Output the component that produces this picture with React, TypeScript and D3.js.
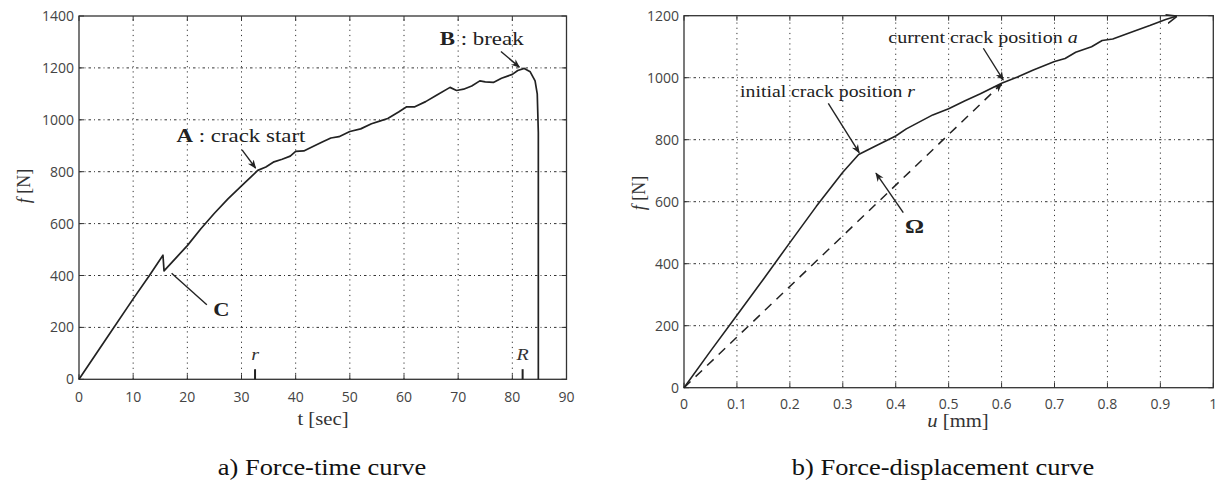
import React from "react";
import * as d3 from "d3";

// ---- Data: a) force-time curve ----
const ftTime = [0, 5, 10, 13, 15.5, 15.7, 18, 20, 22.5, 25, 27.5, 30, 32, 33, 34.5, 36, 37.5, 39, 40, 41.5, 43, 45, 46.5, 48, 50, 52, 54, 55.5, 57, 59, 60.5, 62, 64, 66, 68.5, 69.7, 71, 72.5, 74, 75, 76.5, 78, 80, 81, 82.2, 83.3, 84.2, 84.6, 84.8, 84.8];
const ftForce = [0, 155, 310, 400, 478, 418, 470, 515, 580, 640, 695, 745, 785, 805, 818, 838, 848, 860, 878, 880, 895, 915, 930, 935, 955, 965, 985, 995, 1005, 1030, 1050, 1050, 1070, 1095, 1125, 1113, 1118, 1130, 1150, 1146, 1144, 1160, 1175, 1190, 1198, 1185, 1150, 1100, 950, 0];
const ftXTicks = [0, 10, 20, 30, 40, 50, 60, 70, 80, 90];
const ftYTicks = [0, 200, 400, 600, 800, 1000, 1200, 1400];

// ---- Data: b) force-displacement curve ----
const fuDisp = [0, 0.05, 0.1, 0.15, 0.2, 0.25, 0.3, 0.33, 0.36, 0.4, 0.42, 0.47, 0.5, 0.53, 0.56, 0.6, 0.63, 0.66, 0.7, 0.72, 0.74, 0.77, 0.79, 0.81, 0.85, 0.88, 0.91, 0.93];
const fuForce = [0, 118, 234, 350, 468, 585, 695, 752, 778, 812, 835, 880, 900, 925, 948, 982, 1002, 1025, 1052, 1062, 1082, 1100, 1120, 1125, 1150, 1168, 1188, 1198];
const omegaDisp = [0, 0.6];
const omegaForce = [0, 980];
const fuXTicks = [0, 0.1, 0.2, 0.3, 0.4, 0.5, 0.6, 0.7, 0.8, 0.9, 1];
const fuYTicks = [0, 200, 400, 600, 800, 1000, 1200];

const SERIF = "'Liberation Serif', 'Times New Roman', serif";
const SANS = "'Open Sans', 'Noto Sans', sans-serif";
const INK = "#222";
const GRID = "#333";

type Sc = d3.ScaleLinear<number, number>;

function ST({ x, y, anchor = "start", size, weight, fill = INK, sx = 1.25, children }: { x: number; y: number; anchor?: string; size: number; weight?: string; fill?: string; sx?: number; children: React.ReactNode }) {
  return (
    <text transform={`translate(${x},${y}) scale(${sx},1)`} textAnchor={anchor} fontFamily={SERIF} fontSize={size} fontWeight={weight} fill={fill}>
      {children}
    </text>
  );
}

function Frame({ x, y, xTicks, yTicks, xFmt, tickDy }: { x: Sc; y: Sc; xTicks: number[]; yTicks: number[]; xFmt: (v: number) => string; tickDy: number }) {
  const [x0, x1] = x.range();
  const [y0, y1] = y.range();
  const tl = 5;
  return (
    <g>
      {xTicks.slice(1, -1).map((v) => (
        <line key={"gx" + v} x1={x(v)} x2={x(v)} y1={y0} y2={y1} stroke={GRID} strokeWidth={1} strokeDasharray="1.2,4" />
      ))}
      {yTicks.slice(1, -1).map((v) => (
        <line key={"gy" + v} x1={x0} x2={x1} y1={y(v)} y2={y(v)} stroke={GRID} strokeWidth={1} strokeDasharray="2.5,3,1,3" />
      ))}
      {xTicks.map((v) => (
        <g key={"tx" + v}>
          <line x1={x(v)} x2={x(v)} y1={y0} y2={y0 - tl} stroke={GRID} strokeWidth={1} />
          <line x1={x(v)} x2={x(v)} y1={y1} y2={y1 + tl} stroke={GRID} strokeWidth={1} />
          <text x={x(v)} y={y0 + tickDy} textAnchor="middle" fontFamily={SANS} fontSize={14} fill="#444">{xFmt(v)}</text>
        </g>
      ))}
      {yTicks.map((v) => (
        <g key={"ty" + v}>
          <line x1={x0} x2={x0 + tl} y1={y(v)} y2={y(v)} stroke={GRID} strokeWidth={1} />
          <line x1={x1} x2={x1 - tl} y1={y(v)} y2={y(v)} stroke={GRID} strokeWidth={1} />
          <text x={x0 - 5} y={y(v) + 5} textAnchor="end" fontFamily={SANS} fontSize={14} fill="#444">{v}</text>
        </g>
      ))}
      <rect x={x0} y={y1} width={x1 - x0} height={y0 - y1} fill="none" stroke="#333" strokeWidth={1.3} />
    </g>
  );
}

export default function App() {
  // chart a
  const xa = d3.scaleLinear().domain([0, 90]).range([79, 566.5]);
  const ya = d3.scaleLinear().domain([0, 1400]).range([379.3, 16]);
  // chart b
  const xb = d3.scaleLinear().domain([0, 1]).range([684, 1213.3]);
  const yb = d3.scaleLinear().domain([0, 1200]).range([387.7, 15.7]);

  const lineA = d3.line<number>().x((_, i) => xa(ftTime[i])).y((d) => ya(d));
  const lineB = d3.line<number>().x((_, i) => xb(fuDisp[i])).y((d) => yb(d));
  const lineOmega = d3.line<number>().x((_, i) => xb(omegaDisp[i])).y((d) => yb(d));

  const arrow = (xs: Sc, ys: Sc, a: [number, number], b: [number, number], key: string, marker = true) => (
    <line key={key} x1={xs(a[0])} y1={ys(a[1])} x2={xs(b[0])} y2={ys(b[1])} stroke={INK} strokeWidth={1.4} markerEnd={marker ? "url(#ah)" : undefined} />
  );

  return (
    <svg width={1220} height={484} style={{ position: "absolute", left: 0, top: 0, background: "#fff" }}>
      <defs>
        <marker id="ah" viewBox="0 0 10 10" refX={9} refY={5} markerWidth={9} markerHeight={9} markerUnits="userSpaceOnUse" orient="auto">
          <path d="M0,1 L10,5 L0,9 L3,5 Z" fill={INK} />
        </marker>
        <marker id="ah2" viewBox="0 0 10 10" refX={9} refY={5} markerWidth={11} markerHeight={11} markerUnits="userSpaceOnUse" orient="auto">
          <path d="M0,1 L10,5 L0,9" fill="none" stroke={INK} strokeWidth={1.4} />
        </marker>
      </defs>

      {/* ---------- a) Force-time ---------- */}
      <Frame x={xa} y={ya} xTicks={ftXTicks} yTicks={ftYTicks} xFmt={(v) => String(v)} tickDy={23} />
      <path d={lineA(ftForce) || ""} fill="none" stroke={INK} strokeWidth={1.7} strokeLinejoin="round" />
      {arrow(xa, ya, [30.1, 884], [32.6, 814], "aA")}
      <ST x={xa(18)} y={ya(916)} size={18.3}>
        <tspan fontWeight="bold">A</tspan><tspan> : crack start</tspan>
      </ST>
      {arrow(xa, ya, [77.9, 1263], [81.3, 1203], "aB")}
      <ST x={xa(66.6)} y={ya(1287)} size={18.3}>
        <tspan fontWeight="bold">B</tspan><tspan> : break</tspan>
      </ST>
      {arrow(xa, ya, [17.1, 409], [23.6, 287], "aC", false)}
      <ST x={xa(24.8)} y={ya(244)} size={18} weight="bold">C</ST>
      <line x1={xa(32.5)} x2={xa(32.5)} y1={ya(0)} y2={ya(39)} stroke={INK} strokeWidth={2} />
      <ST x={xa(32.5)} y={ya(74)} anchor="middle" size={16} fill="#333"><tspan fontStyle="italic">r</tspan></ST>
      <line x1={xa(81.9)} x2={xa(81.9)} y1={ya(0)} y2={ya(39)} stroke={INK} strokeWidth={2} />
      <ST x={xa(81.9)} y={ya(74)} anchor="middle" size={16} fill="#333"><tspan fontStyle="italic">R</tspan></ST>
      <ST x={323} y={425} anchor="middle" size={18} sx={1.15} fill="#333">t  [sec]</ST>
      <text transform="translate(30,186) rotate(-90)" textAnchor="middle" fontFamily={SERIF} fontSize={18} fill="#333">
        <tspan fontStyle="italic">f</tspan><tspan>  [N]</tspan>
      </text>
      <ST x={322} y={475} anchor="middle" size={23} sx={1.15} fill="#111">a) Force-time curve</ST>

      {/* ---------- b) Force-displacement ---------- */}
      <Frame x={xb} y={yb} xTicks={fuXTicks} yTicks={fuYTicks} xFmt={(v) => (v === 0 || v === 1 ? String(v) : d3.format(".1f")(v))} tickDy={21.5} />
      <path d={lineOmega(omegaForce) || ""} fill="none" stroke={INK} strokeWidth={1.5} strokeDasharray="9,7" markerEnd="url(#ah)" />
      <path d={lineB(fuForce) || ""} fill="none" stroke={INK} strokeWidth={1.6} strokeLinejoin="round" markerEnd="url(#ah2)" />
      {arrow(xb, yb, [0.2726, 917], [0.331, 758], "bI")}
      <ST x={xb(0.106)} y={yb(939)} size={15.8}>
        initial crack position <tspan fontStyle="italic">r</tspan>
      </ST>
      {arrow(xb, yb, [0.5655, 1095], [0.603, 993], "bC")}
      <ST x={xb(0.386)} y={yb(1111)} size={16}>
        current crack position <tspan fontStyle="italic">a</tspan>
      </ST>
      {arrow(xb, yb, [0.4143, 565], [0.3627, 692], "bO")}
      <ST x={xb(0.4175)} y={yb(498)} size={19} weight="bold">Ω</ST>
      <ST x={958} y={427} anchor="middle" size={18} sx={1.15} fill="#333">
        <tspan fontStyle="italic">u</tspan><tspan>  [mm]</tspan>
      </ST>
      <text transform="translate(645,193) rotate(-90)" textAnchor="middle" fontFamily={SERIF} fontSize={18} fill="#333">
        <tspan fontStyle="italic">f</tspan><tspan>  [N]</tspan>
      </text>
      <ST x={943} y={475} anchor="middle" size={23} sx={1.15} fill="#111">b) Force-displacement curve</ST>
    </svg>
  );
}
